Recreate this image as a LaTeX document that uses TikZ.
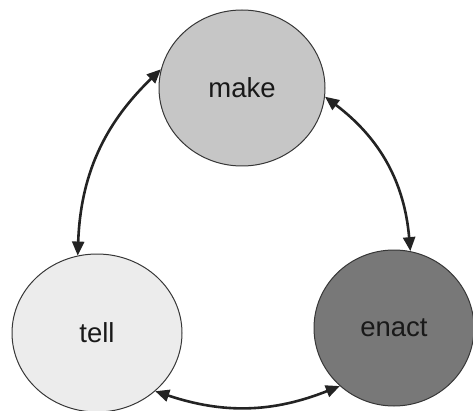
\documentclass[tikz,border=0pt]{standalone}
\usepackage{fontspec}
\setmainfont{Liberation Sans}
\usetikzlibrary{shapes.geometric,arrows.meta}
\definecolor{makefill}{RGB}{198,198,198}
\definecolor{tellfill}{RGB}{236,236,236}
\definecolor{enactfill}{RGB}{120,120,120}
\definecolor{edge}{RGB}{55,55,55}
\definecolor{arrowcol}{RGB}{35,35,35}
\definecolor{txt}{RGB}{25,25,25}
\begin{document}
\begin{tikzpicture}[x=1pt,y=1pt,
  blob/.style={ellipse,draw=edge,line width=1pt,inner sep=0pt,
    text=txt,font=\fontsize{27.5}{30}\selectfont},
  link/.style={{Triangle[length=14pt,width=12pt]}-{Triangle[length=14pt,width=12pt]},
    draw=arrowcol,line width=2.6pt}]
\useasboundingbox (0,0) rectangle (473,410);
\clip (0,0) rectangle (473,410);
\node[blob,fill=makefill,minimum width=166pt,minimum height=156pt] (make) at (242,322) {make};
\node[blob,fill=tellfill,minimum width=170pt,minimum height=158pt] (tell) at (97,77) {tell};
\node[blob,fill=enactfill,minimum width=160pt,minimum height=156pt] (enact) at (394,82) {enact};
\draw[link] (tell.104) to[bend left=22] (make.167);
\draw[link] (make.-6) to[bend left=24] (enact.78);
\draw[link] (enact.-133) to[bend left=20] (tell.-45);
\end{tikzpicture}
\end{document}
